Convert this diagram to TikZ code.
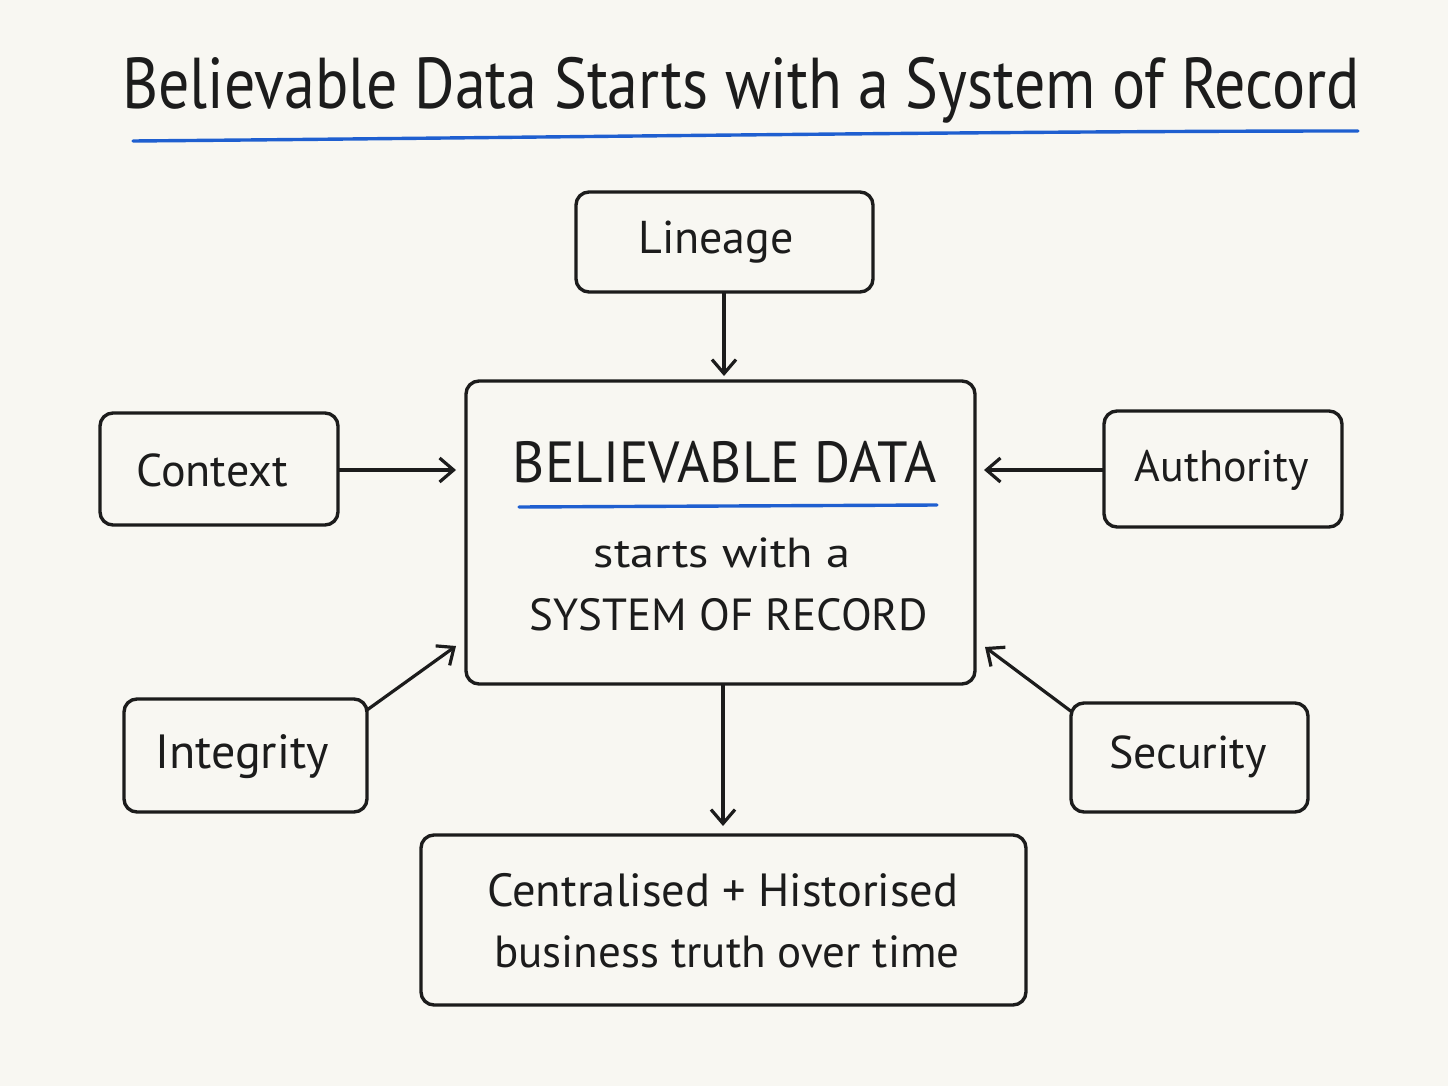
\documentclass[tikz,border=0pt]{standalone}
\usepackage{fontspec}
\setmainfont{PT Sans}
\usetikzlibrary{arrows.meta}
\definecolor{bg}{HTML}{F8F7F2}
\definecolor{ink}{HTML}{1C1C1C}
\definecolor{ublue}{HTML}{1F5FD0}
\tikzset{
  box/.style={draw=ink, line width=3.4pt, rounded corners=13pt, inner sep=0pt},
  conn/.style={draw=ink, line width=3.2pt, -{Straight Barb[length=14pt,width=24pt,line width=3.2pt]}},
  lbl/.style={text=ink, inner sep=0pt},
  uline/.style={draw=ublue, line width=3.4pt, line cap=round}
}
\begin{document}
\begin{tikzpicture}[x=1pt,y=-1pt]
\useasboundingbox (0,0) rectangle (1448,1086);
\fill[bg] (0,0) rectangle (1448,1086);
% title
\node[lbl,font=\fontsize{72}{80}\selectfont] (title) at (741,90) {\scalebox{0.86}[1]{Believable Data Starts with a System of Record}};
\coordinate (tl) at (133,141);
\coordinate (tr) at (1358,131);
\draw[uline] (tl) .. controls (500,138) and (1000,131) .. (tr);
% boxes
\draw[box] (576,192) rectangle (873,292);
\node[lbl,font=\fontsize{46}{52}\selectfont] (lin) at (716,242) {Lineage};
\coordinate (linB) at (724,292);
\draw[box] (466,381) rectangle (975,684);
\coordinate (cT) at (724,376);
\coordinate (cL) at (456,470);
\coordinate (cR) at (984,470);
\coordinate (cBL) at (456,646);
\coordinate (cBR) at (985,647);
\coordinate (cB) at (723,684);
\node[lbl,font=\fontsize{58}{64}\selectfont] (bd) at (725,462) {\scalebox{0.95}[1]{BELIEVABLE DATA}};
\coordinate (bl1) at (519,507);
\coordinate (bl2) at (937,505);
\draw[uline] (bl1) -- (bl2);
\node[lbl,font=\fontsize{42}{48}\selectfont] (sw) at (722,553) {\scalebox{1.15}[1]{starts with a}};
\node[lbl,font=\fontsize{45}{52}\selectfont] (sor) at (729,615) {SYSTEM OF RECORD};
\draw[box] (100,413) rectangle (338,525);
\node[lbl,font=\fontsize{46}{52}\selectfont] (ctx) at (212,470) {Context};
\coordinate (ctxR) at (338,470);
\draw[box] (1104,411) rectangle (1342,527);
\node[lbl,font=\fontsize{44}{50}\selectfont] (aut) at (1222,470) {Authority};
\coordinate (autL) at (1104,470);
\draw[box] (124,699) rectangle (367,812);
\node[lbl,font=\fontsize{48}{54}\selectfont] (int) at (242,757) {Integrity};
\coordinate (intC) at (367,710);
\draw[box] (1071,703) rectangle (1308,812);
\node[lbl,font=\fontsize{46}{52}\selectfont] (sec) at (1188,757) {Security};
\coordinate (secC) at (1072,712);
\draw[box] (421,835) rectangle (1026,1005);
\node[lbl,font=\fontsize{46.5}{52}\selectfont] (b1) at (723,890) {Centralised + Historised};
\node[lbl,font=\fontsize{45}{52}\selectfont] (b2) at (727,952) {business truth over time};
\coordinate (botT) at (723,826);
% connectors
\draw[conn] (linB) -- (cT);
\draw[conn] (ctxR) -- (cL);
\draw[conn] (autL) -- (cR);
\draw[conn] (intC) -- (cBL);
\draw[conn] (secC) -- (cBR);
\draw[conn] (cB) -- (botT);
\end{tikzpicture}
\end{document}
